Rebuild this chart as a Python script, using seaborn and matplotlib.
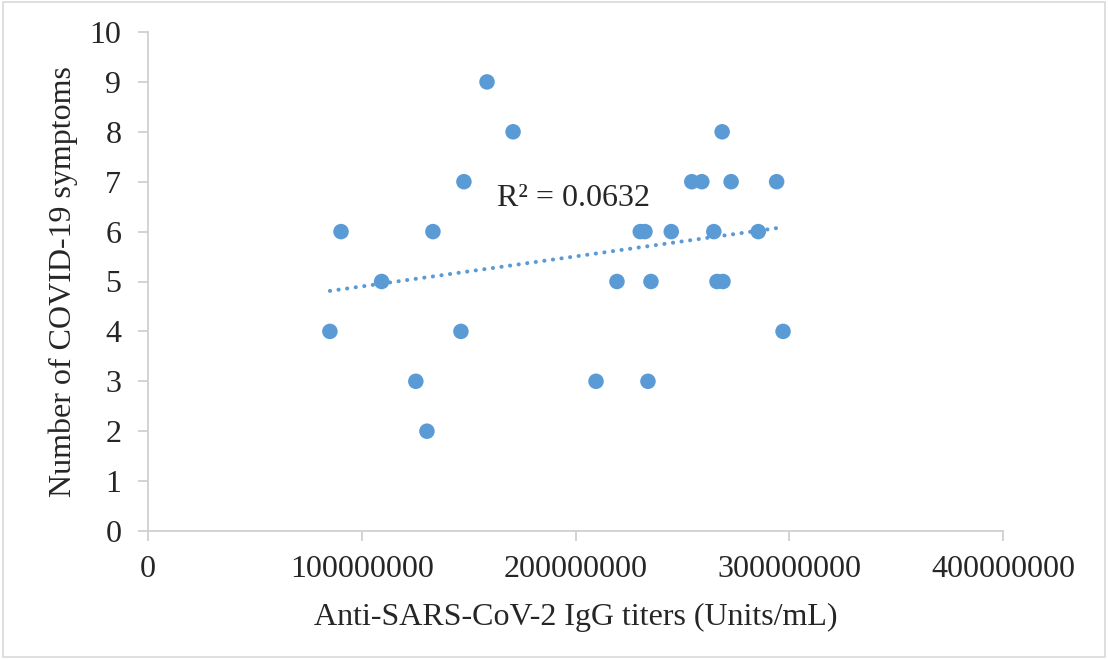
import numpy as np
import pandas as pd
import matplotlib
matplotlib.use("Agg")
import matplotlib.pyplot as plt
import seaborn as sns

igg_titers = [85.1e6, 90.3e6, 109.3e6, 125.3e6, 130.5e6, 133.3e6, 146.4e6, 147.8e6,
              158.6e6, 170.8e6, 209.6e6, 219.4e6, 230.3e6, 232.5e6, 233.9e6, 235.3e6,
              244.8e6, 254.4e6, 259.1e6, 264.7e6, 266.2e6, 269.0e6, 268.6e6, 272.8e6,
              285.5e6, 294.1e6, 297.1e6]
symptoms = [4, 6, 5, 3, 2, 6, 4, 7, 9, 8, 3, 5, 6, 6, 3, 5, 6, 7, 7, 6, 5, 5, 8, 7, 6, 7, 4]
x_ticks = [0, 100000000, 200000000, 300000000, 400000000]
y_ticks = list(range(0, 11))
r2_label = "R² = 0.0632"

df = pd.DataFrame({"x": igg_titers, "y": symptoms})

sns.set_style("white")
plt.rcParams['font.family'] = ['Liberation Serif', 'DejaVu Serif']

fig = plt.figure(figsize=(11.08, 6.59), dpi=100)
ax = fig.add_axes([148/1108, 1 - 531/659, (1003-148)/1108, (531-32)/659])

color = "#5B9BD5"
sns.scatterplot(data=df, x="x", y="y", ax=ax, color=color, s=125, edgecolor="none", zorder=3)

# linear trendline
coef = np.polyfit(df["x"], df["y"], 1)
xs = np.array([min(igg_titers), max(igg_titers)])
ax.plot(xs, np.polyval(coef, xs), linestyle=(0, (0.05, 2.1)), color=color, lw=2.9, zorder=2,
        dash_capstyle="round")

ax.text(199e6, 6.66, r2_label, fontsize=23, ha="center", va="center")

ax.set_xlim(0, 400000000)
ax.set_ylim(0, 10)
ax.set_xticks(x_ticks)
ax.set_xticklabels([str(t) for t in x_ticks])
ax.set_yticks(y_ticks)
ax.set_yticklabels([str(t) for t in y_ticks])

for side in ["top", "right"]:
    ax.spines[side].set_visible(False)
for side in ["left", "bottom"]:
    ax.spines[side].set_color("#d0d0d0")
    ax.spines[side].set_linewidth(1.3)
ax.tick_params(axis="both", which="major", labelsize=23, length=7.2, width=1.3,
               color="#d0d0d0", direction="out", bottom=True, left=True)
ax.tick_params(axis="x", pad=10)
ax.tick_params(axis="y", pad=12)

ax.set_xlabel("Anti-SARS-CoV-2 IgG titers (Units/mL)", fontsize=23, labelpad=14)
ax.set_ylabel("Number of COVID-19 symptoms", fontsize=23, labelpad=8)

# outer frame
fig.patches.append(plt.Rectangle((0.003, 0.003), 0.994, 0.994, transform=fig.transFigure,
                                 fill=False, edgecolor="#d9d9d9", lw=1.2))

fig.savefig("out.png", dpi=100)
